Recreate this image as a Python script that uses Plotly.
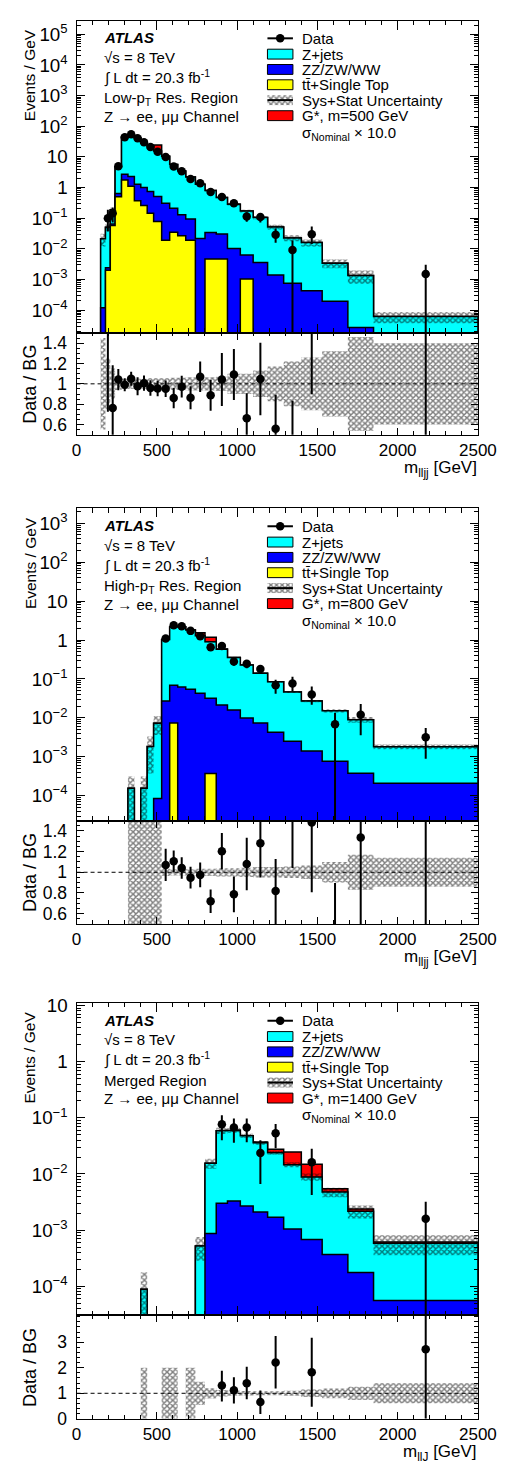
import plotly.graph_objects as go

# ======================= DATA =======================
# ---- Panel 1: Low-pT resolved region ----
edges1 = [150, 180, 210, 240, 280, 320, 360, 400, 440, 480, 530, 580, 630, 680, 740,
          800, 870, 940, 1020, 1100, 1190, 1290, 1400, 1530, 1690, 1850, 2500]
zjets1 = [0.0214, 0.0486, 0.125, 4.16, 41.7, 49.7, 40.7, 28.8, 21.16, 15.0, 10.19, 5.49,
          3.37, 2.105, 1.268, 0.766, 0.4395, 0.2737, 0.1657, 0.1014, 0.0506, 0.0218,
          0.0156, 0.0032, 0.00132, 5.2e-5]
diboson1 = [1.2e-4, 4e-4, 0.007, 0.14, 0.95, 1.2, 0.92, 0.74, 0.595, 0.432, 0.291, 0.175,
            0.103, 0.076, 0.0216, 0.0293, 0.0258, 0.0103, 0.0053, 0.0036, 0.0014, 7.6e-4,
            4.3e-4, 1.95e-4, 2.7e-5, 1e-5]
top1 = [0, 2.0e-3, 0.058, 0.50, 1.75, 1.1, 0.37, 0.26, 0.145, 0.078, 0.019, 0.035, 0.027,
        0.019, 0, 0.0047, 0.0047, 0, 1.04e-3, 0, 0, 0, 0, 0, 0, 0]
signal1 = [0, 0, 0, 0, 0, 0, 0, 0, 0, 9.0, 0, 0, 0, 0, 0, 0, 0, 0, 0, 0, 0, 0, 0, 0, 0, 0]
unc1 = [0.45, 0.25, 0.15, 0.06, 0.05, 0.05, 0.05, 0.05, 0.055, 0.055, 0.055, 0.06, 0.06,
        0.065, 0.065, 0.065, 0.07, 0.1, 0.1, 0.13, 0.17, 0.22, 0.26, 0.32, 0.46, 0.4]
data1 = [None, 0.10, 0.145, 5.0, 44, 54.6, 41, 30, 21, 14.8, 10.0, 4.9, 3.4, 1.9, 1.38,
         0.71, 0.49, 0.31, 0.114, 0.11, 0.029, 0.0091, 0.030, None, None, 0.0015]
errup1 = [0, 0.9, 0.55, 0.1, 0.065, 0.065, 0.09, 0.075, 0.08, 0.08, 0.085, 0.115, 0.11,
          0.13, 0.14, 0.17, 0.25, 0.23, 0.37, 0.34, 0.6, 1.07, 0.8, 0, 0, 1.0]
errdn1 = [0, 0.63, 0.5, 0.1, 0.065, 0.065, 0.09, 0.075, 0.08, 0.08, 0.085, 0.115, 0.11,
          0.13, 0.14, 0.17, 0.25, 0.23, 0.33, 0.34, 0.45, 0.999, 0.52, 0, 0, 0.999]

# ---- Panel 2: High-pT resolved region ----
edges2 = [320, 360, 400, 440, 480, 530, 580, 630, 680, 740, 800, 870, 940, 1020, 1100,
          1190, 1290, 1400, 1530, 1690, 1850, 2500]
zjets2 = [1.55e-4, 0, 1.55e-4, 1.85e-3, 7.2e-3, 1.0, 2.1, 2.12, 1.76, 1.25, 0.87, 0.56,
          0.34, 0.218, 0.133, 0.08, 0.0435, 0.0256, 0.0144, 0.0086, 0.0016]
diboson2 = [0, 0, 0, 0, 8.5e-5, 0.027, 0.0616, 0.062, 0.054, 0.043, 0.0316, 0.0215, 0.016,
            0.0099, 0.0074, 0.0043, 0.0025, 0.0014, 7.7e-4, 3.8e-4, 2.1e-4]
top2 = [0, 0, 0, 0, 0, 0, 7.4e-3, 0, 0, 0, 3.7e-4, 0, 0, 0, 0, 0, 0, 0, 0, 0, 0]
signal2 = [0, 0, 0, 0, 0, 0, 0, 0, 0, 0.24, 0.27, 0.01, 0, 0, 0, 0, 0, 0, 0, 0, 0]
unc2 = [1.0, 1.0, 1.0, 0.8, 0.5, 0.035, 0.03, 0.03, 0.03, 0.035, 0.035, 0.04, 0.04, 0.045,
        0.05, 0.05, 0.055, 0.065, 0.1, 0.17, 0.14]
data2 = [None, None, None, None, None, 1.1, 2.4, 2.27, 1.72, 1.26, 0.65, 0.70, 0.28, 0.246,
         0.18, 0.069, 0.076, 0.040, 0.0069, 0.012, 0.0032]
errup2 = [0, 0, 0, 0, 0, 0.146, 0.095, 0.1, 0.11, 0.123, 0.158, 0.147, 0.22, 0.235, 0.26,
          0.38, 0.5, 0.6, 0.97, 0.9, 0.72]
errdn2 = [0, 0, 0, 0, 0, 0.146, 0.095, 0.1, 0.11, 0.123, 0.158, 0.147, 0.22, 0.235, 0.26,
          0.4, 0.37, 0.455, 0.999, 0.7, 0.72]

# ---- Panel 3: Merged region ----
edges3 = [400, 440, 480, 530, 580, 630, 680, 740, 800, 870, 940, 1020, 1100, 1190, 1290,
          1400, 1530, 1690, 1850, 2500]
zjets3 = [8.9e-5, 0, 0, 1.2e-5, 1.2e-5, 0, 1.2e-5, 5.2e-4, 0.0147, 0.056, 0.0567, 0.0453,
          0.0339, 0.0223, 0.0136, 0.0082, 0.0044, 0.002, 5.3e-4]
diboson3 = [0, 0, 0, 0, 0, 0, 0, 0, 8.7e-4, 3.0e-3, 3.3e-3, 2.7e-3, 2.1e-3, 1.7e-3, 1.05e-3,
            6.8e-4, 3.7e-4, 1.76e-4, 5.6e-5]
top3 = [0, 0, 0, 0, 0, 0, 0, 0, 0, 0, 0, 0, 0, 0, 0, 0, 0, 0, 0]
signal3 = [0, 0, 0, 0, 0, 0, 0, 0, 0, 0, 0, 0, 0.001, 0.0035, 0.010, 0.006, 0.0007, 0.0002, 3e-5]
unc3 = [1.0, 0, 0, 1.0, 1.0, 0, 1.0, 0.45, 0.2, 0.13, 0.1, 0.09, 0.08, 0.08, 0.1, 0.15,
        0.19, 0.26, 0.39]
data3 = [None, None, None, None, None, None, None, None, None, 0.077, 0.067, 0.067, 0.0237,
         0.053, None, 0.0162, None, None, 0.0016]
errup3 = [0, 0, 0, 0, 0, 0, 0, 0, 0, 0.44, 0.46, 0.46, 0.68, 0.47, 0, 0.74, 0, 0, 1.0]
errdn3 = [0, 0, 0, 0, 0, 0, 0, 0, 0, 0.48, 0.46, 0.45, 0.72, 0.46, 0, 0.74, 0, 0, 0.999]

# ---- text ----
legend_names = ["Data", "Z+jets", "ZZ/ZW/WW", "tt\u0304+Single Top", "Sys+Stat Uncertainty"]
region_labels = ["Low-p<sub>T</sub> Res. Region", "High-p<sub>T</sub> Res. Region", "Merged Region"]
signal_labels = ["G*, m=500 GeV", "G*, m=800 GeV", "G*, m=1400 GeV"]
xtitles = ["m<sub>lljj</sub> [GeV]", "m<sub>lljj</sub> [GeV]", "m<sub>llJ</sub> [GeV]"]

# ======================= STYLE / LAYOUT =======================
W, H = 526, 1469
FONT = "Liberation Sans, Arial, Helvetica, sans-serif"
FLOOR = 1e-12
C_Z, C_VV, C_TOP, C_SIG = "#00FFFF", "#0000FF", "#FFFF00", "#FF0000"
HATCH = dict(shape="x", size=4, solidity=0.6, fgcolor="#000000", bgcolor="rgba(0,0,0,0)")
XL, XR = 75.0, 495.5

panels = [
    dict(edges=edges1, zj=zjets1, vv=diboson1, tp=top1, sg=signal1, un=unc1, d=data1,
         eu=errup1, ed=errdn1, main=(12.7, 329.0), ratio=(329.0, 432.0),
         yrange=[-4.745, 5.45], rrange=[0.5, 1.5], rticks=[0.6, 0.8, 1.0, 1.2, 1.4], rminor=0.05),
    dict(edges=edges2, zj=zjets2, vv=diboson2, tp=top2, sg=signal2, un=unc2, d=data2,
         eu=errup2, ed=errdn2, main=(506.7, 822.7), ratio=(822.7, 927.3),
         yrange=[-4.64, 3.38], rrange=[0.5, 1.5], rticks=[0.6, 0.8, 1.0, 1.2, 1.4], rminor=0.05),
    dict(edges=edges3, zj=zjets3, vv=diboson3, tp=top3, sg=signal3, un=unc3, d=data3,
         eu=errup3, ed=errdn3, main=(1007.3, 1323.7), ratio=(1323.7, 1428.3),
         yrange=[-4.52, 1.046], rrange=[0, 4.05], rticks=[0, 1, 2, 3], rminor=0.2),
]


def ydom(a, b):
    return [1 - b / H, 1 - a / H]


def step_poly(edges, vals):
    xs, ys = [edges[0]], [FLOOR]
    for i, v in enumerate(vals):
        v = v if v > 0 else FLOOR
        xs += [edges[i], edges[i + 1]]
        ys += [v, v]
    xs.append(edges[-1])
    ys.append(FLOOR)
    return xs, ys


def band_poly(edges, lo, hi):
    xs, ys = [], []
    for i in range(len(lo)):
        xs += [edges[i], edges[i + 1]]
        ys += [hi[i], hi[i]]
    for i in reversed(range(len(lo))):
        xs += [edges[i + 1], edges[i]]
        ys += [lo[i], lo[i]]
    return xs, ys


fig = go.Figure()
layout = dict(width=W, height=H, margin=dict(l=0, r=0, t=0, b=0), autosize=False,
              paper_bgcolor="white", plot_bgcolor="rgba(0,0,0,0)", showlegend=False,
              font=dict(family=FONT, color="black", size=15))
annotations, shapes = [], []


def axname(a, i):
    return a if i == 1 else f"{a}{i}"


common = dict(showline=True, linecolor="black", linewidth=1, mirror="ticks", ticks="inside",
              tickcolor="black", showgrid=False, zeroline=False)

for k, p in enumerate(panels):
    im, ir = 2 * k + 1, 2 * k + 2
    edges = p["edges"]
    n = len(edges) - 1
    ctr = [(edges[i] + edges[i + 1]) / 2 for i in range(n)]
    top_ = p["tp"]
    vvtop = [top_[i] + p["vv"][i] for i in range(n)]
    total = [vvtop[i] + p["zj"][i] for i in range(n)]
    sigtop = [total[i] + p["sg"][i] for i in range(n)]

    xm, ym = axname("x", im), axname("y", im)
    xr, yr = axname("x", ir), axname("y", ir)

    # stacked histograms
    for vals, col in [(sigtop, C_SIG), (total, C_Z), (vvtop, C_VV), (top_, C_TOP)]:
        xs, ys = step_poly(edges, vals)
        fig.add_trace(go.Scatter(x=xs, y=ys, xaxis=xm, yaxis=ym, mode="lines", fill="toself",
                                 fillcolor=col, line=dict(color="black", width=1.5),
                                 hoverinfo="skip"))
    # uncertainty band main
    lo = [total[i] * (1 - p["un"][i]) if total[i] * (1 - p["un"][i]) > 0 else FLOOR for i in range(n)]
    hi = [total[i] * (1 + p["un"][i]) if total[i] > 0 else FLOOR for i in range(n)]
    xs, ys = band_poly(edges, lo, hi)
    fig.add_trace(go.Scatter(x=xs, y=ys, xaxis=xm, yaxis=ym, mode="none", fill="toself",
                             fillcolor="rgba(0,0,0,0)", fillpattern=HATCH, hoverinfo="skip"))
    # data
    idx = [i for i in range(n) if p["d"][i] is not None]
    dv = [p["d"][i] for i in idx]
    fig.add_trace(go.Scatter(
        x=[ctr[i] for i in idx], y=dv, xaxis=xm, yaxis=ym, mode="markers",
        marker=dict(color="black", size=8.5),
        error_y=dict(type="data", symmetric=False, array=[p["d"][i] * p["eu"][i] for i in idx],
                     arrayminus=[p["d"][i] * p["ed"][i] for i in idx], color="black",
                     thickness=2, width=0)))

    # ratio band
    rlo = [1 - p["un"][i] for i in range(n)]
    rhi = [1 + p["un"][i] for i in range(n)]
    xs, ys = band_poly(edges, rlo, rhi)
    fig.add_trace(go.Scatter(x=xs, y=ys, xaxis=xr, yaxis=yr, mode="none", fill="toself",
                             fillcolor="rgba(0,0,0,0)", fillpattern=HATCH, hoverinfo="skip"))
    rat = [p["d"][i] / total[i] for i in idx]
    fig.add_trace(go.Scatter(
        x=[ctr[i] for i in idx], y=rat, xaxis=xr, yaxis=yr, mode="markers",
        marker=dict(color="black", size=8.5),
        error_y=dict(type="data", symmetric=False,
                     array=[rat[j] * p["eu"][i] for j, i in enumerate(idx)],
                     arrayminus=[rat[j] * p["ed"][i] for j, i in enumerate(idx)],
                     color="black", thickness=2, width=0)))
    shapes.append(dict(type="line", xref=f"{xr} domain", yref=yr, x0=0, x1=1, y0=1, y1=1,
                       line=dict(color="black", width=1, dash="4px,3px"), layer="below"))

    # axes
    xd = [XL / W, XR / W]
    layout[axname("xaxis", im)] = dict(domain=xd, anchor=ym, range=[0, 2500], dtick=500,
                                       ticklen=9, showticklabels=False,
                                       minor=dict(ticks="inside", dtick=100, ticklen=4.5, tickcolor="black"),
                                       **common)
    layout[axname("yaxis", im)] = dict(domain=ydom(*p["main"]), anchor=xm, type="log",
                                       range=p["yrange"], dtick=1, exponentformat="power",
                                       ticklen=8, tickfont=dict(size=15, family=FONT),
                                       ticklabelstandoff=5,
                                       minor=dict(ticks="inside", dtick="D1", ticklen=4, tickcolor="black"),
                                       **common)
    layout[axname("xaxis", ir)] = dict(domain=xd, anchor=yr, range=[0, 2500], dtick=500,
                                       ticklen=7, tickfont=dict(size=17, family=FONT),
                                       ticklabelstandoff=0,
                                       minor=dict(ticks="inside", dtick=100, ticklen=3.5, tickcolor="black"),
                                       **common)
    layout[axname("yaxis", ir)] = dict(domain=ydom(*p["ratio"]), anchor=xr, range=p["rrange"],
                                       tickmode="array", tickvals=p["rticks"], ticklen=7,
                                       tickfont=dict(size=17.5, family=FONT), ticklabelstandoff=5,
                                       minor=dict(ticks="inside", tickmode="linear", tick0=0,
                                                  dtick=p["rminor"], ticklen=3.5, tickcolor="black"),
                                       **common)

    # ---------------- decorations in pixel overlay ----------------
    T = p["main"][0]
    R0, R1 = p["ratio"]

    def ann(text, x, y, size=15, xanchor="left", angle=0):
        annotations.append(dict(text=text, x=x, y=y, xref="x7", yref="y7", showarrow=False,
                                xanchor=xanchor, yanchor="middle", textangle=angle,
                                font=dict(size=size, family=FONT, color="black")))

    ann("<b><i>ATLAS</i></b>", 102, T + 17.5)
    ann("\u221as = 8 TeV", 102, T + 37)
    ann("\u222b L dt = 20.3 fb<sup>-1</sup>", 102, T + 57)
    ann(region_labels[k], 102, T + 79)
    ann("Z \u2192 ee, \u03bc\u03bc Channel", 102, T + 97)
    ann("Events / GeV", 26, T + 55.5, size=15.5, xanchor="center", angle=-90)
    ann("Data / BG", 26, (R0 + R1) / 2, size=18, xanchor="center", angle=-90)
    ann(xtitles[k], XR + 1, R1 + 34.5, size=17, xanchor="right")

    lx0, lx1 = 275.0, 301.7
    # Data legend entry
    fig.add_trace(go.Scatter(x=[lx0, lx1], y=[T + 18, T + 18], xaxis="x7", yaxis="y7",
                             mode="lines", line=dict(color="black", width=2), hoverinfo="skip"))
    fig.add_trace(go.Scatter(x=[(lx0 + lx1) / 2], y=[T + 18], xaxis="x7", yaxis="y7",
                             mode="markers", marker=dict(color="black", size=8.5), hoverinfo="skip"))
    ann(legend_names[0], 309, T + 18)
    boxes = [(C_Z, 34.0, legend_names[1]), (C_VV, 49.5, legend_names[2]),
             (C_TOP, 65.0, legend_names[3]), (None, 80.6, legend_names[4]),
             (C_SIG, 96.3, signal_labels[k])]
    for col, dy, name in boxes:
        yc = T + dy
        bx = [lx0, lx1, lx1, lx0, lx0]
        by = [yc - 5, yc - 5, yc + 5, yc + 5, yc - 5]
        if col is None:
            fig.add_trace(go.Scatter(x=bx, y=by, xaxis="x7", yaxis="y7", mode="none",
                                     fill="toself", fillcolor="rgba(0,0,0,0)",
                                     fillpattern=HATCH, hoverinfo="skip"))
            fig.add_trace(go.Scatter(x=[lx0, lx1], y=[yc, yc], xaxis="x7", yaxis="y7",
                                     mode="lines", line=dict(color="black", width=2),
                                     hoverinfo="skip"))
        else:
            fig.add_trace(go.Scatter(x=bx, y=by, xaxis="x7", yaxis="y7", mode="lines",
                                     fill="toself", fillcolor=col,
                                     line=dict(color="black", width=1), hoverinfo="skip"))
        ann(name, 309, yc)
    ann("\u03c3<sub>Nominal</sub> \u00d7 10.0", 309, T + 114)

layout["xaxis7"] = dict(domain=[0, 1], range=[0, W], visible=False, fixedrange=True, anchor="y7")
layout["yaxis7"] = dict(domain=[0, 1], range=[H, 0], visible=False, fixedrange=True, anchor="x7")
layout["annotations"] = annotations
layout["shapes"] = shapes
fig.update_layout(**layout)
fig.write_html("out.html",
               config={"displayModeBar": False, "staticPlot": True},
               post_script="document.body.style.margin='0px';"
                           "document.body.style.overflow='hidden';")
